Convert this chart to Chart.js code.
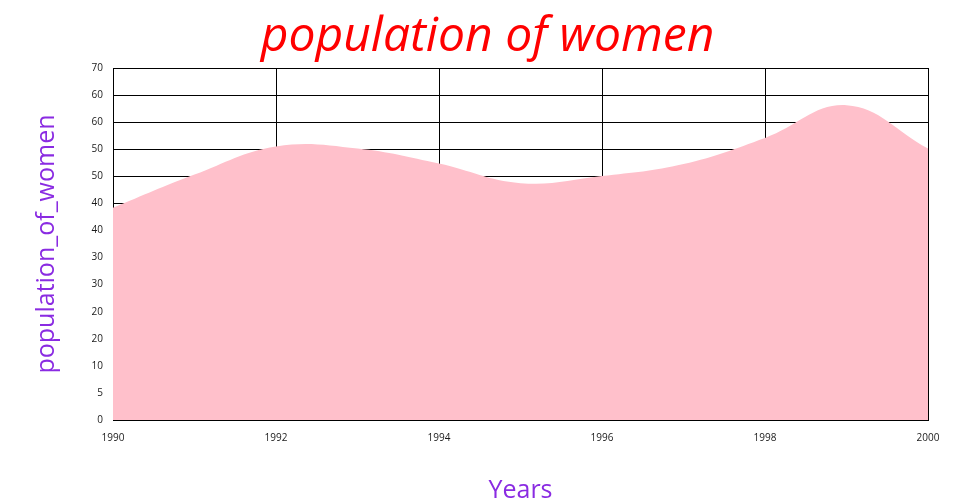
<!DOCTYPE html>
<html>
<head>
<meta charset="utf-8">
<script src="https://cdn.jsdelivr.net/npm/chart.js@4"></script>
<style>
html,body{margin:0;padding:0;background:#fff;}
canvas{display:block;}
</style>
</head>
<body>
<canvas id="c" width="960" height="500"></canvas>
<script>
const years = [1990, 1991, 1992, 1993, 1994, 1995, 1996, 1997, 1998, 1999, 2000];
const population = [42.2, 48.8, 54.4, 54.0, 51.0, 47.1, 48.5, 50.9, 56.1, 62.6, 54.0];
const xTickLabels = ['1990', '1992', '1994', '1996', '1998', '2000'];
const yTickLabels = ['0', '5', '10', '20', '20', '30', '30', '40', '40', '50', '50', '60', '60', '70'];
const yMax = 70;

Chart.defaults.font.family = "'Open Sans', sans-serif";

new Chart(document.getElementById('c'), {
  type: 'line',
  data: {
    datasets: [{
      label: 'population_of_women',
      data: years.map((y, i) => ({x: y, y: population[i]})),
      fill: 'origin',
      backgroundColor: 'pink',
      borderColor: 'pink',
      borderWidth: 0,
      pointRadius: 0,
      tension: 0.4
    }]
  },
  options: {
    responsive: false,
    animation: false,
    layout: {padding: {left: 15, right: 0, top: 0, bottom: 0}},
    plugins: {
      legend: {display: false},
      tooltip: {enabled: false},
      title: {
        display: true,
        text: 'population of women',
        color: 'red',
        font: {family: "'Open Sans', sans-serif", size: 48, style: 'italic', weight: 'normal', lineHeight: 1.2},
        padding: {top: 9, bottom: 1.4}
      }
    },
    scales: {
      x: {
        type: 'linear',
        min: 1990,
        max: 2000,
        afterBuildTicks: s => { s.ticks = xTickLabels.map(t => ({value: Number(t)})); },
        afterFit: s => { s.height = 80; },
        ticks: {
          color: '#1a1a1a',
          font: {size: 10},
          padding: 12,
          maxRotation: 0,
          callback: (v, i) => xTickLabels[i]
        },
        grid: {color: '#000', lineWidth: 1, drawTicks: false},
        border: {display: true, color: '#000', width: 1},
        title: {
          display: true,
          text: 'Years',
          color: '#8a2be2',
          font: {size: 25, lineHeight: 1.2},
          padding: {top: 0, bottom: -6}
        }
      },
      y: {
        min: 0,
        max: yMax,
        afterBuildTicks: s => { s.ticks = yTickLabels.map((t, i) => ({value: i * yMax / (yTickLabels.length - 1)})); },
        afterFit: s => { s.width = 98; },
        ticks: {
          color: '#1a1a1a',
          font: {size: 10},
          padding: 10,
          callback: (v, i) => yTickLabels[i]
        },
        grid: {color: '#000', lineWidth: 1, drawTicks: false},
        border: {display: true, color: '#000', width: 1},
        title: {
          display: true,
          text: 'population_of_women',
          color: '#8a2be2',
          font: {size: 25, lineHeight: 1.2},
          padding: {top: 17, bottom: 0}
        }
      },
      y2: {
        position: 'right',
        display: true,
        min: 0,
        max: yMax,
        afterFit: s => { s.width = 32; },
        ticks: {display: false},
        grid: {display: false, drawOnChartArea: false},
        border: {display: false}
      }
    }
  }
});
</script>
</body>
</html>
